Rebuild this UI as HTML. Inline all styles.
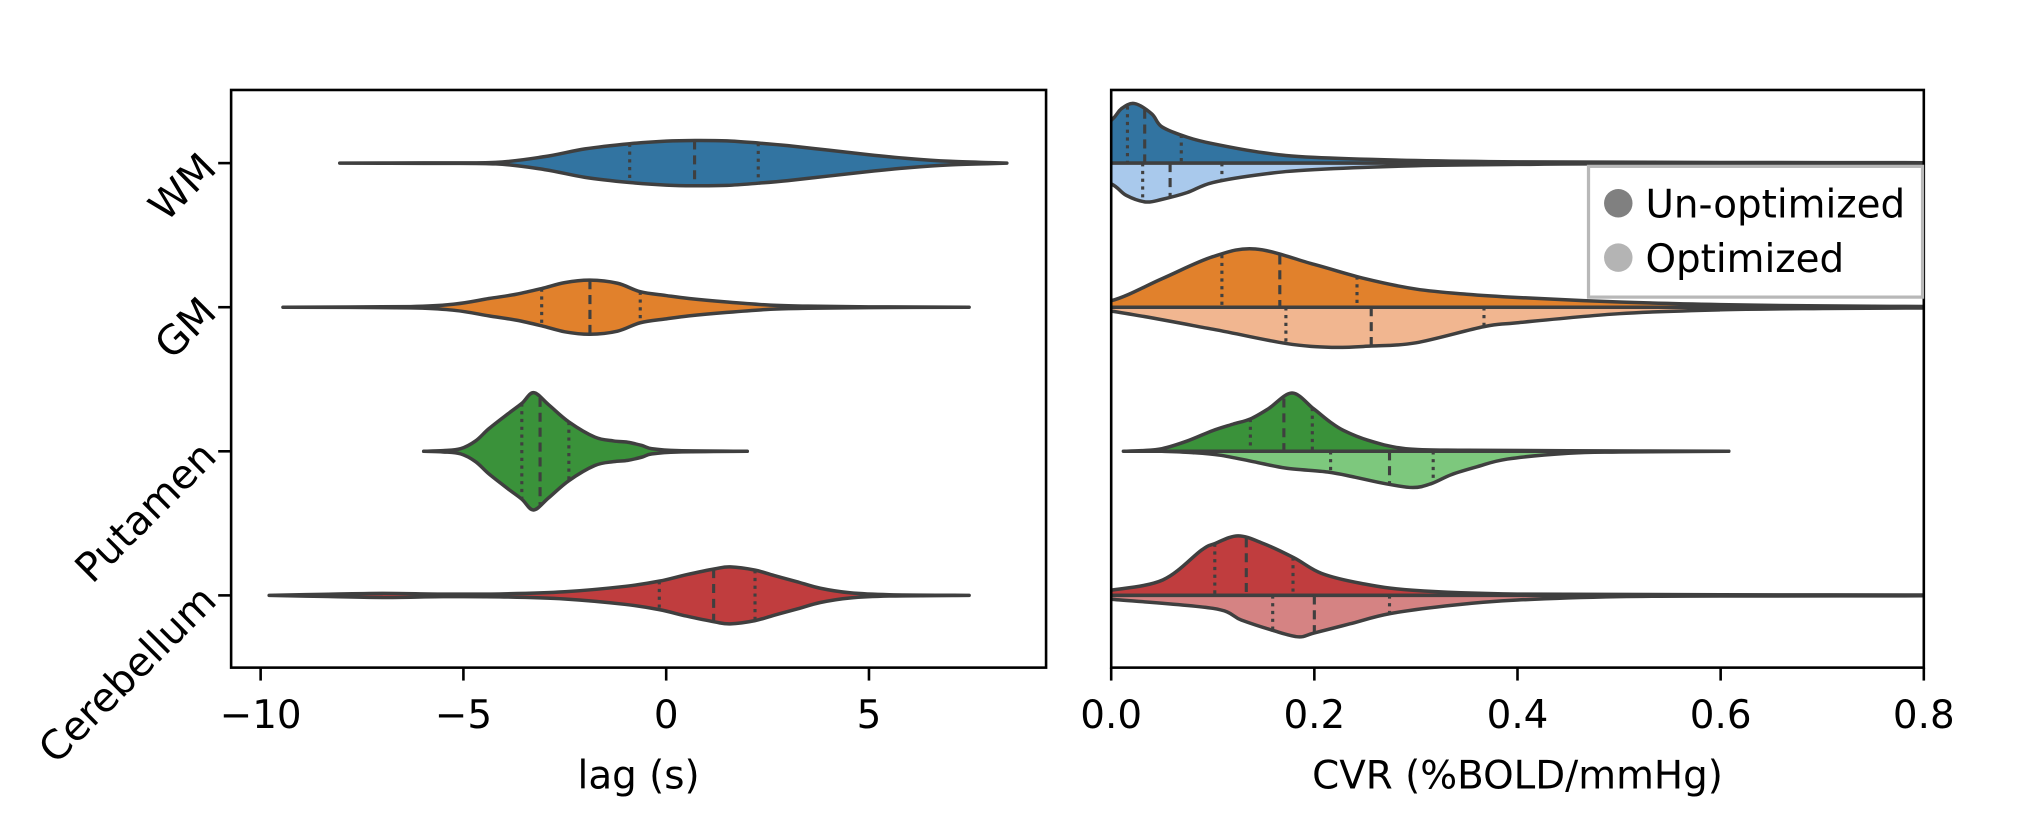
<!DOCTYPE html>
<html><head><meta charset="utf-8"><title>Lag and CVR violin plots</title>
<style>
html,body{margin:0;padding:0;background:#fff;}
svg{display:block;}
text{font-family:"DejaVu Sans","Liberation Sans",sans-serif;fill:#000;}
</style></head>
<body>
<svg id="fig" width="2030" height="820" viewBox="0 0 1568 633.4" xmlns="http://www.w3.org/2000/svg">
<defs><clipPath id="clipR"><rect x="858.3" y="69.5" width="627.7" height="446.2"/></clipPath>
<clipPath id="clipL"><rect x="178.5" y="69.5" width="629.5" height="446.2"/></clipPath></defs>
<g id="left"></g>
<g id="right"></g>
</svg>
<script>
// ---- data ----
const categories = ["WM","GM","Putamen","Cerebellum"];
const lagTicks = [-10,-5,0,5];
const cvrTicks = [0.0,0.2,0.4,0.6,0.8];
const cvrTickLabels = ["0.0","0.2","0.4","0.6","0.8"];
// lag (left) violins: values and scaled densities
const wmLagVals = [-8.05,-6,-4.2,-3,-2,-0.9,0,0.7,1.5,2.27,3,4,5,6,7,8,8.4];
const wmLagDens = [0,0.2,0.6,5,11,15,17,17.5,17.2,15.5,13.5,10,6.5,3.5,1.4,0.4,0];
const wmLagQuart = [-0.9,0.7,2.27];
const gmLagVals = [-9.45,-6.3,-5.2,-4.37,-3.7,-3.07,-2.5,-1.88,-1.2,-0.64,0,0.56,1.5,2.57,3.5,5,7.47];
const gmLagDens = [0,0.5,2.5,6.7,10,14.4,19,20.9,18.5,12,9,6.7,4,1.6,0.8,0.3,0];
const gmLagQuart = [-3.07,-1.88,-0.64];
const putLagVals = [-5.98,-5.5,-5.07,-4.7,-4.37,-3.9,-3.56,-3.27,-2.9,-2.4,-1.76,-1.3,-0.95,-0.6,-0.35,0.3,2.0];
const putLagDens = [0,0.5,2,8,17.5,29,37,45.3,36,22.7,11,8,7,4.5,2,0.5,0];
const putLagQuart = [-3.56,-3.11,-2.4];
const cbLagVals = [-9.79,-8.5,-7,-5.5,-4,-2.5,-1,-0.17,0.5,1.2,1.58,2.19,2.7,3.22,3.8,4.53,5.5,7.47];
const cbLagDens = [0,0.8,1.6,1,1.2,2.8,7,11,16,20.5,22,19.5,15,10.6,5.5,2,0.5,0];
const cbLagQuart = [-0.17,1.17,2.19];
// CVR (right) split violins: un-optimized (top) and optimized (bottom)
const wmUnVals = [-0.03,0,0.01,0.023,0.04,0.05,0.075,0.1,0.15,0.2,0.3,0.4,0.6,0.85];
const wmUnDens = [15,33,42,46,38,28,20,15,8,4.4,2,1,0.5,0.3];
const wmUnQuart = [0.016,0.033,0.069];
const wmOptVals = [-0.03,0,0.015,0.034,0.05,0.075,0.1,0.15,0.2,0.3,0.4,0.5,0.85];
const wmOptDens = [8,16,25,30,28,22.7,15,8.5,5,2,1,0.5,0.3];
const wmOptQuart = [0.031,0.058,0.109];
const gmUnVals = [-0.05,0,0.05,0.1,0.142,0.2,0.25,0.3,0.35,0.4,0.5,0.6,0.7,0.85];
const gmUnDens = [0.5,5,22,39,45,33,22,14,10,7.5,4,2,1,0.4];
const gmUnQuart = [0.109,0.166,0.242];
const gmOptVals = [-0.05,0,0.1,0.172,0.217,0.256,0.3,0.367,0.4,0.5,0.6,0.7,0.85];
const gmOptDens = [0.5,3,17,28,31,30,27.5,15,12,5,2,1,0.4];
const gmOptQuart = [0.172,0.256,0.367];
const putUnVals = [0.012,0.03,0.05,0.075,0.1,0.12,0.137,0.155,0.178,0.199,0.215,0.229,0.253,0.29,0.35,0.45,0.608];
const putUnDens = [0,0.5,2,8,16,21,25,33,45,33,23,16,8.5,2,0.8,0.4,0];
const putUnQuart = [0.137,0.170,0.198];
const putOptVals = [0.05,0.08,0.107,0.14,0.172,0.213,0.24,0.27,0.297,0.315,0.335,0.36,0.39,0.45,0.5,0.608];
const putOptDens = [0,1,3,8,13,16,20,25,28,25,18,12,6,1.5,0.5,0];
const putOptQuart = [0.216,0.274,0.317];
const cbUnVals = [-0.03,0,0.051,0.089,0.102,0.125,0.15,0.18,0.207,0.246,0.297,0.4,0.6,0.85];
const cbUnDens = [1.5,4,12,35,40,46,40,29,17,9.3,4,1,0.5,0.3];
const cbUnQuart = [0.102,0.133,0.179];
const cbOptVals = [-0.03,0,0.1,0.128,0.159,0.184,0.2,0.235,0.275,0.337,0.4,0.5,0.6,0.85];
const cbOptDens = [1.5,3,10,19,27,32,29,22,14,7.5,3.6,1,0.5,0.3];
const cbOptQuart = [0.159,0.2,0.274];
const darkColors = ["#3274a1","#e1812c","#3a923a","#c03d3e"];
const lightColors = ["#a9c9ec","#f1b690","#7dc87d","#d58383"];

// ---- axes ----
const L = {x0:178.5, x1:808, y0:69.5, y1:515.7};
const R = {x0:858.3, x1:1486, y0:69.5, y1:515.7};
const xL = v => 201.3 + (v + 10) / 15 * (671.2 - 201.3);
const xR = v => R.x0 + v / 0.8 * (R.x1 - R.x0);
const yCat = i => 126 + i * 111.3;
const wS = d => d;
const EDGE = "#3f3f3f";
const NS = "http://www.w3.org/2000/svg";

function mk(tag, attrs, parent){ const e=document.createElementNS(NS,tag); for(const k in attrs) e.setAttribute(k,attrs[k]); parent.appendChild(e); return e; }
function segs(pts, start){
  let d = (start ? "M" : "L") + pts[0][0].toFixed(2) + "," + pts[0][1].toFixed(2);
  for(let i=0;i<pts.length-1;i++){
    const p0=pts[i-1]||pts[i], p1=pts[i], p2=pts[i+1], p3=pts[i+2]||pts[i+1];
    const c1=[p1[0]+(p2[0]-p0[0])/6, p1[1]+(p2[1]-p0[1])/6];
    const c2=[p2[0]-(p3[0]-p1[0])/6, p2[1]-(p3[1]-p1[1])/6];
    d += ` C${c1[0].toFixed(2)},${c1[1].toFixed(2)} ${c2[0].toFixed(2)},${c2[1].toFixed(2)} ${p2[0].toFixed(2)},${p2[1].toFixed(2)}`;
  }
  return d;
}
function interp(vals, dens, q){
  for(let i=0;i<vals.length-1;i++){ if(q>=vals[i]&&q<=vals[i+1]){ const t=(q-vals[i])/(vals[i+1]-vals[i]); return dens[i]+t*(dens[i+1]-dens[i]); } }
  return 0;
}
function quartLines(g, xf, vals, dens, quarts, cy, mode, name){
  quarts.forEach((q,k)=>{
    const hw = wS(interp(vals,dens,q));
    const ya = mode==="bottom" ? cy : cy-hw;
    const yb = mode==="top" ? cy : cy+hw;
    const ln = mk("line",{x1:xf(q),x2:xf(q),y1:ya,y2:yb,stroke:EDGE,"stroke-width":2.4,"stroke-dasharray":k===1?"7,4.5":"2.5,3.5"},g);
    
    
  });
}

const left = document.getElementById("left");
const right = document.getElementById("right");

// left violins
const lagData = [[wmLagVals,wmLagDens,wmLagQuart],[gmLagVals,gmLagDens,gmLagQuart],[putLagVals,putLagDens,putLagQuart],[cbLagVals,cbLagDens,cbLagQuart]];
const lg = mk("g",{"clip-path":"url(#clipL)"},left);
lagData.forEach((s,i)=>{
  const [vals,dens,quarts]=s; const cy=yCat(i);
  const top = vals.map((v,k)=>[xL(v), cy-wS(dens[k])]);
  const bot = vals.map((v,k)=>[xL(v), cy+wS(dens[k])]).reverse();
  const p = mk("path",{d:segs(top,true)+" "+segs(bot,false)+" Z",fill:darkColors[i],stroke:EDGE,"stroke-width":2.7,"stroke-linejoin":"round","stroke-linecap":"round"},lg);
  
  
  quartLines(lg, xL, vals, dens, quarts, cy, "full", 'lag-' + categories[i].toLowerCase());
});

// right split violins
const cvrUn = [[wmUnVals,wmUnDens,wmUnQuart],[gmUnVals,gmUnDens,gmUnQuart],[putUnVals,putUnDens,putUnQuart],[cbUnVals,cbUnDens,cbUnQuart]];
const cvrOpt = [[wmOptVals,wmOptDens,wmOptQuart],[gmOptVals,gmOptDens,gmOptQuart],[putOptVals,putOptDens,putOptQuart],[cbOptVals,cbOptDens,cbOptQuart]];
const rg = mk("g",{"clip-path":"url(#clipR)"},right);
categories.forEach((c,i)=>{
  const cy=yCat(i);
  [[cvrUn[i],-1,darkColors[i],"top","unoptimized"],[cvrOpt[i],1,lightColors[i],"bottom","optimized"]].forEach(([s,sg,col,mode,nm])=>{
    const [vals,dens,quarts]=s;
    const pts = vals.map((v,k)=>[xR(v), cy+sg*wS(dens[k])]);
    const d = segs(pts,true)+` L${xR(vals[vals.length-1])},${cy} L${xR(vals[0])},${cy} Z`;
    const p = mk("path",{d:d,fill:col,stroke:EDGE,"stroke-width":2.7,"stroke-linejoin":"round","stroke-linecap":"round"},rg);
    
    
    quartLines(rg, xR, vals, dens, quarts, cy, mode, 'cvr-' + c.toLowerCase() + '-' + nm);
  });
});

// frames
[[L,left,"lag-axes-frame"],[R,right,"cvr-axes-frame"]].forEach(([a,g,nm])=>{
  const r = mk("rect",{x:a.x0,y:a.y0,width:a.x1-a.x0,height:a.y1-a.y0,fill:"none",stroke:"#000","stroke-width":2},g);
  
  
});
// x ticks
lagTicks.forEach(t=>{
  const x=xL(t);
  const tk = mk("line",{x1:x,x2:x,y1:L.y1,y2:L.y1+10,stroke:"#000","stroke-width":2},left);
  
  
  const tx = mk("text",{x:x,y:562.5,"text-anchor":"middle","font-size":30},left);
  tx.textContent = t<0 ? "\u2212"+Math.abs(t) : String(t);
  
  
});
cvrTicks.forEach((t,k)=>{
  const x=xR(t);
  const tk = mk("line",{x1:x,x2:x,y1:R.y1,y2:R.y1+10,stroke:"#000","stroke-width":2},right);
  
  
  const tx = mk("text",{x:x,y:562.5,"text-anchor":"middle","font-size":30},right);
  tx.textContent = cvrTickLabels[k];
  
  
});
// y ticks + labels
categories.forEach((c,i)=>{
  const y=yCat(i);
  const tk = mk("line",{x1:L.x0-10,x2:L.x0,y1:y,y2:y,stroke:"#000","stroke-width":2},left);
  
  
  const tx = mk("text",{x:163,y:y+8,"text-anchor":"end","font-size":31,transform:`rotate(-45 163 ${y})`},left);
  tx.textContent = c;
  
  
});
// axis labels
const xl1 = mk("text",{x:(L.x0+L.x1)/2,y:609,"text-anchor":"middle","font-size":30},left);
xl1.textContent="lag (s)";


const xl2 = mk("text",{x:(R.x0+R.x1)/2,y:609,"text-anchor":"middle","font-size":30},right);
xl2.textContent="CVR (%BOLD/mmHg)";


</script>
<!-- legend -->
<svg style="position:absolute;left:0;top:0" width="2030" height="820" viewBox="0 0 1568 633.4">
<g>
<rect x="1227" y="128.5" width="258" height="101" fill="#fff" fill-opacity="0.85" stroke="#b8b8b8" stroke-width="2.5"/>
<g>
<circle cx="1250" cy="157" r="11" fill="#808080"/>
<text x="1271" y="168" font-size="30">Un-optimized</text>
</g>
<g>
<circle cx="1250" cy="199" r="11" fill="#b4b4b4"/>
<text x="1271" y="210" font-size="30">Optimized</text>
</g>
</g>
</svg>
</body></html>
